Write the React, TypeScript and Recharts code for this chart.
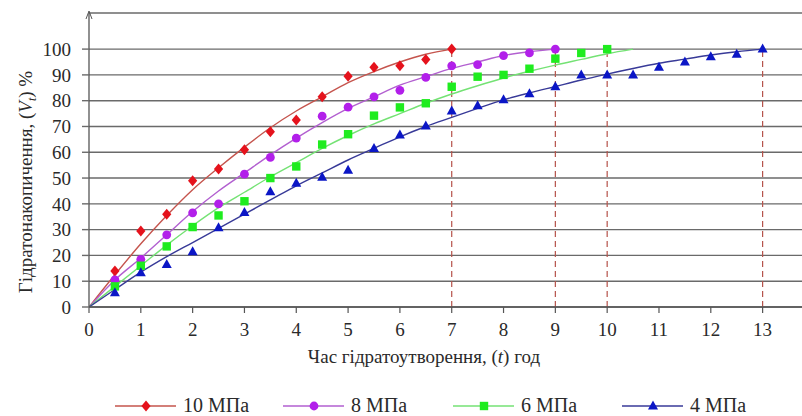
import {
  ComposedChart,
  Line,
  Scatter,
  XAxis,
  YAxis,
  CartesianGrid,
  ReferenceLine,
} from 'recharts';

// hours, every half hour, shared by curves and measured points
const halfHours = [
  0, 0.5, 1, 1.5, 2, 2.5, 3, 3.5, 4, 4.5, 5, 5.5, 6, 6.5, 7, 7.5, 8, 8.5, 9, 9.5,
  10, 10.5, 11, 11.5, 12, 12.5, 13,
];
const hourTicks = [0, 1, 2, 3, 4, 5, 6, 7, 8, 9, 10, 11, 12, 13];
const percentTicks = [0, 10, 20, 30, 40, 50, 60, 70, 80, 90, 100];
const finishHours = [7, 9, 10, 13];

// fitted curves (from t = 0)
const curve10 = [0, 12.5, 24.5, 35.5, 45.5, 54, 62, 69.5, 76, 81.5, 87, 91.3, 95, 98, 100];
const curve8 = [0, 10.5, 19, 28, 37, 45, 52, 59, 65.5, 71.5, 77, 81.5, 86, 89.3, 92.5, 95, 97.5, 99, 100];
const curve6 = [0, 8, 16, 24, 31.5, 38.5, 44.5, 50.5, 56, 61.5, 66.5, 71, 75, 79, 82.6, 85.8, 88.8, 91.4, 93.8, 96, 98.2, 100];
const curve4 = [0, 6.8, 13.5, 19.5, 25, 30.5, 36, 41.5, 47, 52, 57, 61.5, 66, 70, 73.5, 77, 80.3, 83, 85.5, 88, 90.3, 92.5, 94.5, 96.1, 97.7, 99, 100];

// measured points (from t = 0.5)
const points10 = [14, 29.5, 36, 49, 53.5, 61, 68, 72.5, 81.5, 89.5, 93, 93.5, 96, 100];
const points8 = [10.5, 18.5, 28, 36.5, 40, 51.5, 58, 65.5, 74, 77.5, 81.5, 84, 89, 93.5, 94, 97.5, 98.5, 100];
const points6 = [8, 16, 23.5, 31, 35.5, 41, 50, 54.5, 63, 67, 74.2, 77.4, 79, 85.4, 89.3, 90, 92.4, 96.3, 98.5, 100];
const points4 = [5.5, 13.3, 16.5, 21.4, 30.7, 36.6, 44.7, 48, 50.3, 53, 61.5, 66.7, 70.2, 76, 78, 80.4, 82.7, 85.4, 90, 90, 90, 93, 95, 97, 98, 100];

const FONT = "'Liberation Serif', 'Tinos', 'Times New Roman', 'DejaVu Serif Condensed', 'DejaVu Serif', serif";
const INK = '#2a2a2a';

const toRows = (ys: number[], start: number) =>
  ys.map((v, i) => ({ t: halfHours[i + start], v }));

type Shape = 'diamond' | 'circle' | 'square' | 'triangle';

function Marker({ cx, cy, shape, color }: { cx: number; cy: number; shape: Shape; color: string }) {
  if (cx == null || cy == null) return null;
  if (shape === 'diamond')
    return <polygon points={`${cx},${cy - 5.5} ${cx + 4.6},${cy} ${cx},${cy + 5.5} ${cx - 4.6},${cy}`} fill={color} />;
  if (shape === 'circle') return <circle cx={cx} cy={cy} r={4.4} fill={color} />;
  if (shape === 'square') return <rect x={cx - 4.2} y={cy - 4.2} width={8.4} height={8.4} fill={color} />;
  return <polygon points={`${cx},${cy - 5.5} ${cx + 5},${cy + 3.5} ${cx - 5},${cy + 3.5}`} fill={color} />;
}

const series = [
  { key: 's10', label: '10 МПа', curve: curve10, points: points10, line: '#c5544d', mark: '#e5121c', shape: 'diamond' as Shape, left: 115 },
  { key: 's8', label: '8 МПа', curve: curve8, points: points8, line: '#b25fd0', mark: '#b21fea', shape: 'circle' as Shape, left: 283 },
  { key: 's6', label: '6 МПа', curve: curve6, points: points6, line: '#74e274', mark: '#1fec1f', shape: 'square' as Shape, left: 453 },
  { key: 's4', label: '4 МПа', curve: curve4, points: points4, line: '#383a98', mark: '#0b16c6', shape: 'triangle' as Shape, left: 622 },
];

function ChartLegend() {
  return (
    <>
      {series.map((s) => (
        <div
          key={s.key}
          style={{
            position: 'absolute',
            top: 394,
            left: s.left,
            display: 'flex',
            alignItems: 'center',
            fontFamily: FONT,
            fontSize: 20,
            color: INK,
            whiteSpace: 'nowrap',
          }}
        >
          <svg width={62} height={16} style={{ marginRight: 6 }}>
            <line x1={0} y1={8} x2={61} y2={8} stroke={s.line} strokeWidth={1.4} />
            <Marker cx={31} cy={8} shape={s.shape} color={s.mark} />
          </svg>
          {s.label}
        </div>
      ))}
    </>
  );
}

export default function App() {
  return (
    <div style={{ position: 'absolute', left: 0, top: 0, width: 802, height: 416, background: '#fff', fontFamily: FONT }}>
      <ComposedChart width={802} height={416} margin={{ top: 13, right: 0, left: 0, bottom: 49 }} style={{ fontFamily: FONT }}>
        <defs>
          <marker id="yArrow" markerWidth="8" markerHeight="10" refX="4" refY="2" orient="0" markerUnits="userSpaceOnUse">
            <path d="M1,8 L4,0 L7,8" fill="none" stroke="#555" strokeWidth={1} />
          </marker>
        </defs>
        <CartesianGrid horizontal vertical={false} stroke="#6a6a6a" strokeWidth={1.4} />
        <XAxis
          type="number"
          dataKey="t"
          domain={[0, 13.76]}
          ticks={hourTicks}
          interval={0}
          allowDataOverflow
          height={60}
          tickSize={6}
          tickMargin={10}
          tick={{ fontFamily: FONT, fontSize: 19, fill: INK }}
          axisLine={{ stroke: '#555', strokeWidth: 1.3 }}
          tickLine={{ stroke: '#555', strokeWidth: 1.2 }}
          label={{
            content: () => (
              <text x={424} y={363} textAnchor="middle" fontFamily={FONT} fontSize={19} fill={INK}>
                Час гідратоутворення, (<tspan fontStyle="italic">t</tspan>) год
              </text>
            ),
          }}
        />
        <YAxis
          type="number"
          dataKey="v"
          domain={[0, 114]}
          ticks={percentTicks}
          interval={0}
          allowDataOverflow
          width={89}
          tickSize={7}
          tickMargin={11}
          tick={{ fontFamily: FONT, fontSize: 19, fill: INK }}
          axisLine={{ stroke: '#555', strokeWidth: 1.3, markerStart: 'url(#yArrow)' }}
          tickLine={{ stroke: '#6a6a6a', strokeWidth: 1.4 }}
          label={{
            content: () => (
              <text x={32} y={182} transform="rotate(-90 32 182)" textAnchor="middle" fontFamily={FONT} fontSize={19} fill={INK}>
                Гідратонакопичення, (<tspan fontStyle="italic">V</tspan>
                <tspan fontStyle="italic" fontSize={12} dy={4}>t</tspan>
                <tspan dy={-4}>) %</tspan>
              </text>
            ),
          }}
        />
        {finishHours.map((h) => (
          <ReferenceLine
            key={h}
            segment={[{ x: h, y: 0 }, { x: h, y: 100 }]}
            stroke="#b5524a"
            strokeWidth={1.2}
            strokeDasharray="6 4"
          />
        ))}
        {series.map((s) => (
          <Line
            key={`c-${s.key}`}
            data={toRows(s.curve, 0)}
            dataKey="v"
            type="monotone"
            stroke={s.line}
            strokeWidth={1.4}
            dot={false}
            activeDot={false}
            isAnimationActive={false}
          />
        ))}
        {series.map((s) => (
          <Scatter
            key={`p-${s.key}`}
            data={toRows(s.points, 1)}
            isAnimationActive={false}
            shape={(p: any) => <Marker cx={p.cx} cy={p.cy} shape={s.shape} color={s.mark} />}
          />
        ))}
      </ComposedChart>
      <ChartLegend />
    </div>
  );
}
